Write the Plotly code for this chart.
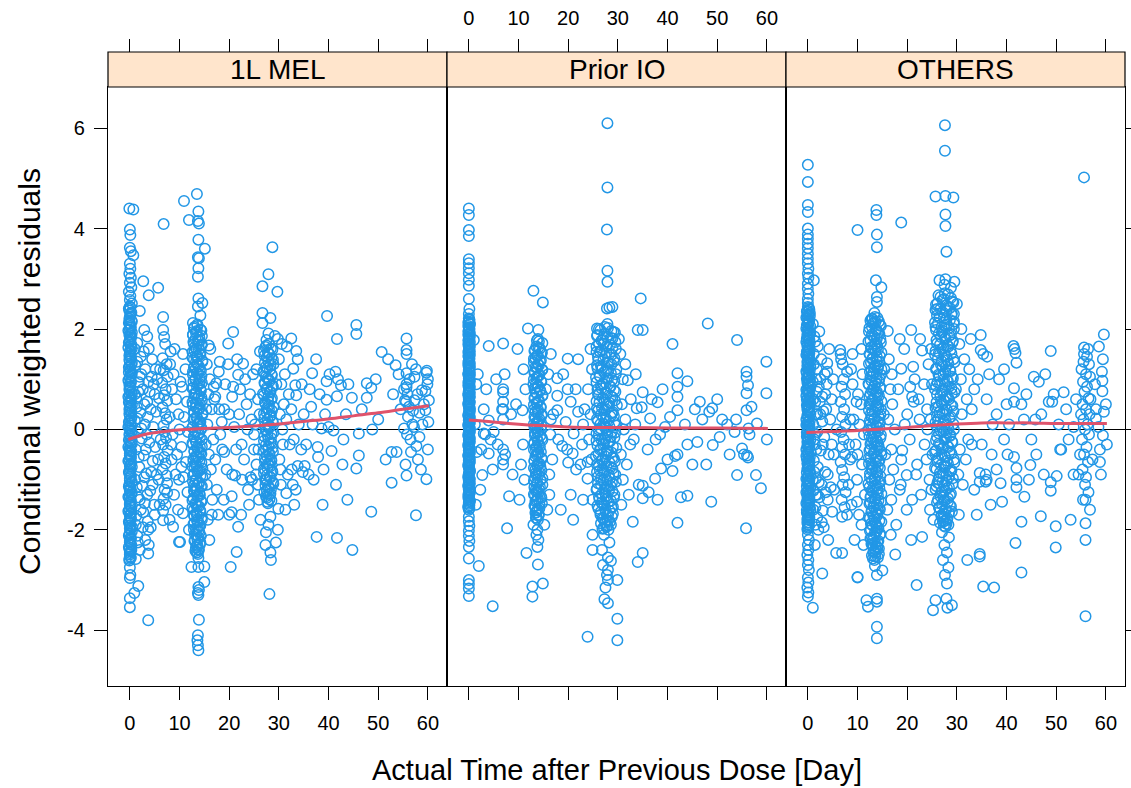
import plotly.graph_objects as go

# ---------------------------------------------------------------------------
# Conditional weighted residuals vs. actual time after previous dose,
# one panel per population.  Each list holds (time [day], CWRES) pairs.
# ---------------------------------------------------------------------------

PANELS = ["1L MEL", "Prior IO", "OTHERS"]

# ---------------- 1L MEL ----------------
mel_day0 = [
    (-0.1,4.40),(0.7,4.38),(0.0,3.98),(0.1,3.87),(0.0,3.62),(0.2,3.55),(0.7,3.47),(0.0,3.30),(0.1,3.20),
    (-0.1,3.10),(0.2,3.02),(0.0,2.92),(0.3,2.83),(-0.2,2.74),(0.1,2.66),(0.0,2.58),(0.4,2.51),
    (0.0,2.45),(-0.2,2.41),(0.3,2.33),(0.1,2.28),(-0.1,2.20),(0.4,2.15),(0.0,2.11),(0.2,2.03),(-0.3,1.97),
    (0.1,1.90),(0.3,1.86),(0.0,1.78),(-0.2,1.73),(0.2,1.65),(0.4,1.61),(0.0,1.55),(-0.1,1.47),(0.2,1.42),
    (0.0,1.36),(0.3,1.29),(-0.2,1.24),(0.1,1.16),(0.4,1.12),(0.0,1.05),(-0.3,0.98),(0.2,0.93),(0.1,0.85),
    (-0.1,0.80),(0.3,0.74),(0.0,0.67),(0.2,0.62),(-0.2,0.54),(0.4,0.49),(0.1,0.43),(0.0,0.36),(-0.1,0.31),
    (0.3,0.23),(0.0,0.18),(0.2,0.12),(-0.3,0.05),(0.1,-0.01),(0.4,-0.08),(0.0,-0.13),(-0.2,-0.21),(0.2,-0.26),
    (0.1,-0.32),(-0.1,-0.39),(0.3,-0.44),(0.0,-0.52),(0.2,-0.57),(-0.3,-0.63),(0.1,-0.70),(0.4,-0.75),
    (0.0,-0.83),(-0.1,-0.88),(0.2,-0.94),(0.0,-1.01),(0.3,-1.06),(-0.2,-1.14),(0.1,-1.19),(0.4,-1.25),
    (0.0,-1.32),(-0.1,-1.37),(0.2,-1.45),(0.0,-1.50),(0.3,-1.56),(-0.3,-1.63),(0.1,-1.68),(0.2,-1.76),
    (0.0,-1.81),(-0.1,-1.87),(0.4,-1.94),(0.1,-1.99),(0.0,-2.07),(-0.2,-2.12),(0.2,-2.18),(0.0,-2.25),
    (0.3,-2.30),(-0.1,-2.38),(0.1,-2.43),(0.0,-2.49),(0.2,-2.56),(-0.1,-2.61),
    (0.0,-2.75),(0.1,-2.90),(0.0,-2.96),(1.7,-3.12),(0.9,-3.26),(0.0,-3.36),(0.0,-3.54),
]
mel_day0_more = [
    (0.1,2.43),(-0.1,2.37),(0.2,2.30),(0.0,2.24),(0.3,2.17),(-0.2,2.12),(0.1,2.06),(0.0,1.99),(0.4,1.93),
    (-0.1,1.88),(0.2,1.81),(0.0,1.75),(0.3,1.69),(-0.3,1.63),(0.1,1.58),(0.0,1.51),(0.2,1.45),(-0.1,1.39),
    (0.4,1.33),(0.0,1.27),(0.1,1.20),(-0.2,1.14),(0.3,1.08),(0.0,1.02),(0.2,0.96),(-0.1,0.89),(0.1,0.83),
    (0.0,0.77),(0.4,0.70),(-0.3,0.65),(0.2,0.58),(0.0,0.52),(0.1,0.46),(-0.1,0.40),(0.3,0.33),(0.0,0.27),
    (0.2,0.21),(-0.2,0.15),(0.1,0.08),(0.0,0.02),(0.3,-0.04),(-0.1,-0.10),(0.2,-0.17),(0.0,-0.23),(0.4,-0.29),
    (-0.3,-0.35),(0.1,-0.42),(0.0,-0.48),(0.2,-0.54),(-0.1,-0.60),(0.3,-0.67),(0.0,-0.73),(0.1,-0.79),
    (-0.2,-0.85),(0.2,-0.91),(0.0,-0.97),(0.4,-1.04),(-0.1,-1.10),(0.1,-1.16),(0.0,-1.22),(0.3,-1.29),
    (-0.3,-1.34),(0.2,-1.41),(0.0,-1.47),(0.1,-1.53),(-0.1,-1.60),(0.3,-1.66),(0.0,-1.72),(0.2,-1.78),
    (-0.2,-1.84),(0.1,-1.91),(0.0,-1.97),(0.4,-2.03),(-0.1,-2.09),(0.2,-2.15),(0.0,-2.22),(0.1,-2.28),
    (-0.2,-2.34),(0.3,-2.40),(0.0,-2.46),(0.1,-2.53),(-0.1,-2.58),
]
mel_early = [
    (2.0,2.36),(2.9,1.98),(3.8,1.61),(2.7,2.95),(3.8,2.67),(1.5,1.72),(2.2,1.45),(1.1,1.28),(3.1,1.20),
    (4.4,1.05),(1.8,0.94),(2.6,0.80),(1.3,0.62),(3.5,0.55),(4.2,0.40),(2.1,0.33),(1.0,0.18),(3.0,0.10),
    (1.6,-0.05),(2.4,-0.18),(3.9,-0.26),(1.2,-0.40),(2.8,-0.52),(4.6,-0.63),(1.9,-0.75),(3.3,-0.88),
    (1.1,-1.00),(2.5,-1.12),(4.1,-1.22),(1.7,-1.35),(3.0,-1.47),(2.2,-1.60),(1.3,-1.72),(3.6,-1.83),
    (2.6,-1.95),(3.7,-2.00),(1.5,-2.12),(3.8,-2.30),(3.7,-2.47),(2.0,-2.40),(1.2,-2.58),(3.7,-3.80),
    (4.8,0.90),(4.9,-1.50),(2.3,1.10),(1.4,0.45),(3.4,-0.10),(1.0,1.60),(1.2,-1.90),(1.0,0.70),
    (1.5,1.35),(2.8,1.55),(3.5,1.85),(4.5,1.40),(5.2,1.20),(2.0,1.05),(3.7,0.95),(5.0,0.70),(1.7,0.75),
    (2.9,0.50),(4.0,0.75),(5.3,0.35),(1.5,0.22),(3.6,0.25),(4.7,0.05),(2.3,0.02),(5.1,-0.35),(3.2,-0.40),
    (1.8,-0.55),(4.3,-0.85),(2.9,-0.95),(5.4,-0.90),(1.4,-1.15),(3.5,-1.30),(4.6,-1.10),(2.0,-1.40),
    (5.0,-1.70),(2.7,-1.65),(4.2,-1.95),(1.6,-2.25),(3.1,-2.20),(8.8,1.10),(9.3,0.60),(8.6,-0.10),
    (9.5,-0.50),(8.9,-1.30),(9.7,-1.60),(10.2,0.95),(10.4,-0.75),(9.0,1.60),(8.5,0.80),(9.2,-0.90),
    (10.0,0.00),(5.5,1.00),(5.7,-0.60),(6.0,-1.50),(6.1,1.20),(8.0,-1.80),(8.3,-0.30),(6.2,-0.20),
]
mel_day7 = [
    (6.8,4.09),(5.7,2.82),(6.7,2.24),(6.7,1.98),(6.9,1.84),(8.2,1.55),(7.1,1.70),(6.6,1.42),(7.4,1.30),
    (6.8,1.18),(7.6,1.05),(6.5,0.93),(7.2,0.80),(6.9,0.68),(7.5,0.57),(6.6,0.44),(7.1,0.32),(7.4,0.20),
    (6.8,0.08),(7.0,-0.05),(7.3,-0.17),(6.7,-0.30),(7.6,-0.42),(6.9,-0.55),(7.2,-0.68),(6.6,-0.80),
    (7.4,-0.92),(7.5,-1.07),(7.0,-1.20),(7.5,-1.26),(6.8,-1.38),(7.2,-1.50),(6.7,-1.62),(6.7,-1.81),
    (8.7,-1.94),(9.9,-2.24),(5.9,0.62),(8.0,0.25),(8.4,-0.60),(5.8,-1.00),(8.1,1.30),
]
mel_day14 = [
    (10.9,4.55),(13.5,4.69),(11.9,4.17),(13.8,4.34),(13.7,4.15),(13.9,4.10),(13.8,3.78),(15.1,3.60),
    (13.7,3.43),(13.9,3.41),(13.8,3.21),(13.7,3.04),(13.8,2.61),(14.6,2.52),(13.7,2.45),(14.2,2.27),
    (12.7,2.12),(13.6,2.09),
    (13.0,2.04),(14.2,1.99),(13.5,1.96),(12.7,1.89),(14.5,1.86),(13.2,1.80),(13.9,1.77),(12.9,1.70),
    (14.4,1.67),(13.4,1.61),(13.0,1.57),(14.1,1.51),(13.6,1.46),(12.6,1.43),(14.6,1.37),(13.3,1.34),
    (13.9,1.26),(12.9,1.23),(14.3,1.17),(13.5,1.12),(12.7,1.09),(14.0,1.02),(13.2,0.99),(14.5,0.93),
    (13.7,0.90),(12.8,0.83),(14.2,0.80),(13.4,0.73),(13.0,0.70),(14.4,0.64),(13.6,0.61),(12.6,0.54),
    (14.1,0.51),(13.3,0.44),(13.9,0.41),(12.9,0.35),(14.6,0.32),(13.5,0.25),(13.0,0.22),(14.2,0.15),
    (13.7,0.12),(12.7,0.05),(14.4,0.03),(13.2,-0.04),(13.9,-0.07),(12.9,-0.14),(14.1,-0.17),(13.4,-0.24),
    (12.6,-0.27),(14.5,-0.34),(13.6,-0.36),(13.0,-0.43),(14.2,-0.46),(13.3,-0.53),(13.8,-0.56),(12.8,-0.63),
    (14.4,-0.66),(13.5,-0.73),(13.0,-0.75),(14.0,-0.82),(13.7,-0.85),(12.7,-0.92),(14.6,-0.95),(13.2,-1.02),
    (13.9,-1.05),(12.9,-1.11),(14.3,-1.14),(13.5,-1.21),(13.0,-1.24),(14.1,-1.31),(13.6,-1.34),(12.6,-1.41),
    (14.4,-1.44),(13.3,-1.50),(13.9,-1.53),(12.9,-1.60),(14.2,-1.63),(13.5,-1.70),(13.0,-1.73),(14.5,-1.80),
    (13.7,-1.83),(12.8,-1.89),(14.0,-1.92),(13.3,-1.99),(13.8,-2.02),(13.1,-2.09),(14.3,-2.12),(13.6,-2.19),
    (13.0,-2.22),(14.1,-2.29),(13.5,-2.32),(13.8,-2.39),(13.2,-2.42),(13.7,-2.48),
    (13.8,-2.56),(12.4,-2.74),(13.8,-2.74),(15.0,-2.73),(15.0,-3.04),(13.8,-3.14),(13.9,-3.20),
    (13.7,-3.26),(13.8,-3.30),(13.9,-3.79),(13.7,-4.10),(13.6,-4.20),(13.7,-4.30),(13.8,-4.40),
    (10.7,1.50),(15.9,1.67),(17.9,1.15),(11.2,1.20),(16.1,1.00),(10.5,0.85),(15.8,0.70),(11.5,0.55),
    (16.5,0.40),(10.9,0.25),(15.6,0.10),(11.7,-0.05),(16.8,-0.20),(10.4,-0.35),(15.9,-0.50),(11.3,-0.65),
    (16.3,-0.80),(10.8,-0.95),(15.5,-1.10),(11.6,-1.25),(16.6,-1.40),(10.7,-1.67),(10.1,-2.24),(15.7,-1.80),
    (11.9,-2.00),(16.0,-2.20),(17.2,-0.60),(17.0,0.60),(9.8,0.30),(9.9,-1.00),
]
mel_day14_more = [
    (13.6,2.06),(12.9,2.01),(14.4,1.97),(13.3,1.93),(12.7,1.88),(14.0,1.83),(13.7,1.78),(12.8,1.74),
    (14.5,1.69),(13.1,1.64),(13.9,1.59),(12.6,1.54),(14.2,1.49),(13.4,1.45),(12.9,1.40),(14.6,1.35),
    (13.6,1.30),(13.0,1.25),(14.1,1.20),(12.7,1.15),(13.8,1.11),(14.4,1.06),(13.2,1.01),(12.8,0.96),
    (14.0,0.91),(13.5,0.86),(12.6,0.82),(14.3,0.77),(13.1,0.72),(13.9,0.67),(12.9,0.62),(14.5,0.58),
    (13.3,0.53),(12.7,0.48),(14.1,0.43),(13.7,0.38),(13.0,0.33),(14.6,0.29),(13.4,0.24),(12.8,0.19),
    (14.0,0.14),(13.6,0.09),(12.6,0.04),(14.3,0.00),(13.1,-0.05),(13.8,-0.10),(12.9,-0.15),(14.5,-0.20),
    (13.3,-0.25),(12.7,-0.30),(14.1,-0.35),(13.7,-0.39),(13.0,-0.44),(14.4,-0.49),(13.5,-0.54),(12.8,-0.59),
    (14.0,-0.64),(13.2,-0.69),(12.6,-0.74),(14.6,-0.78),(13.6,-0.83),(13.0,-0.88),(14.2,-0.93),(13.4,-0.98),
    (12.7,-1.03),(13.9,-1.08),(14.5,-1.13),(13.1,-1.17),(12.9,-1.22),(14.0,-1.27),(13.7,-1.32),(12.8,-1.37),
    (14.3,-1.42),(13.2,-1.47),(13.6,-1.52),(12.6,-1.56),(14.1,-1.61),(13.4,-1.66),(12.9,-1.71),(14.4,-1.76),
    (13.5,-1.81),(13.0,-1.86),(14.2,-1.91),(13.7,-1.95),(12.9,-2.00),(14.0,-2.05),(13.4,-2.10),(13.8,-2.15),
    (13.1,-2.20),(14.2,-2.25),(13.6,-2.30),(13.3,-2.35),(13.9,-2.40),(13.5,-2.45),
]
mel_day21 = [
    (19.8,1.71),(20.8,1.94),(22.8,1.31),(21.8,1.09),(20.8,0.85),(20.6,0.65),(17.4,0.92),(17.2,0.65),
    (19.0,0.40),(22.0,0.30),(18.5,0.15),(21.0,0.05),(23.5,0.50),(24.5,0.20),(20.3,-2.74),(21.5,-2.44),
    (21.8,-1.94),(20.5,-1.65),(20.0,-1.70),(20.5,-1.33),(20.6,-0.90),(21.2,-0.92),(23.8,-1.20),(24.3,-0.95),
    (24.6,-1.00),(19.0,-0.45),(22.5,-0.30),(18.2,-0.10),(23.0,-0.60),(25.0,-0.40),
    (15.5,1.30),(16.9,0.85),(18.1,1.35),(19.2,0.90),(18.6,-0.40),(17.5,-1.20),(19.5,-0.80),(20.0,0.30),
    (21.4,-0.40),(22.2,0.80),(22.6,-1.00),(23.2,1.00),(23.7,0.00),(24.0,-1.50),(17.8,-1.70),(18.9,-1.40),
    (19.8,1.30),(21.6,1.40),(24.2,0.70),(16.2,1.60),(15.3,-0.30),(15.2,-0.90),(15.4,0.40),(22.4,-1.70),
    (18.0,0.40),(16.5,-1.70),(24.8,1.10),(25.5,-0.70),(25.8,-1.10),(26.1,0.30),
]
mel_day28 = [
    (28.7,3.63),(27.9,3.09),(26.7,2.85),(29.7,2.74),(26.7,2.32),(28.3,2.22),(26.7,2.12),(27.9,1.91),
    (29.2,1.86),(27.5,1.78),
    (28.0,1.70),(27.3,1.64),(28.7,1.59),(27.8,1.53),(27.1,1.47),(28.5,1.42),(27.9,1.36),(28.9,1.30),
    (27.4,1.25),(28.2,1.19),(27.0,1.13),(28.6,1.08),(27.7,1.02),(28.1,0.96),(27.2,0.91),(28.8,0.85),
    (27.6,0.79),(28.3,0.74),(27.0,0.68),(28.6,0.62),(27.8,0.57),(27.3,0.51),(28.9,0.45),(28.0,0.40),
    (27.5,0.34),(28.4,0.28),(27.1,0.23),(28.7,0.17),(27.8,0.11),(28.2,0.06),(27.3,0.00),(28.9,-0.06),
    (27.7,-0.11),(28.4,-0.17),(27.0,-0.23),(28.6,-0.28),(27.9,-0.34),(27.4,-0.40),(28.8,-0.45),(28.1,-0.51),
    (27.2,-0.57),(28.5,-0.62),(27.8,-0.68),(28.2,-0.74),(27.0,-0.79),(28.7,-0.85),(27.6,-0.91),(28.3,-0.96),
    (27.3,-1.02),(28.9,-1.08),(27.9,-1.13),(28.4,-1.19),(27.1,-1.25),(28.0,-1.30),(27.6,-1.36),(28.5,-1.42),
    (27.8,-1.47),
    (28.3,-1.74),(27.9,-1.90),(27.4,-2.05),(27.3,-2.30),(29.4,-2.25),(28.3,-2.45),(28.4,-2.60),(28.1,-3.28),
    (25.5,1.20),(30.0,1.40),(25.8,0.60),(30.5,0.90),(25.2,0.10),(30.2,0.30),(25.9,-0.40),(30.8,-0.30),
    (25.4,-0.90),(30.3,-0.80),(29.9,-1.58),(26.0,-1.40),(31.5,-1.27),(30.6,1.70),(26.2,1.55),(25.0,-0.10),
    (31.0,0.50),(26.3,-1.80),(29.8,-2.00),
]
mel_day28_more = [
    (27.5,1.67),(28.4,1.61),(27.0,1.56),(28.1,1.50),(27.6,1.44),(28.8,1.39),(27.2,1.33),(28.3,1.27),
    (27.7,1.22),(26.9,1.16),(28.5,1.10),(27.4,1.05),(28.0,0.99),(27.1,0.93),(28.7,0.88),(27.5,0.82),
    (28.2,0.76),(26.8,0.71),(27.9,0.65),(28.4,0.59),(27.2,0.54),(28.0,0.48),(27.6,0.42),(28.6,0.37),
    (27.0,0.31),(28.2,0.25),(27.7,0.20),(28.8,0.14),(27.3,0.08),(28.0,0.03),(27.5,-0.03),(28.5,-0.09),
    (27.1,-0.14),(27.9,-0.20),(28.3,-0.26),(27.4,-0.31),(28.7,-0.37),(26.9,-0.43),(28.1,-0.48),(27.6,-0.54),
    (28.4,-0.60),(27.2,-0.65),(28.0,-0.71),(27.7,-0.77),(28.6,-0.82),(27.0,-0.88),(28.2,-0.94),(27.5,-0.99),
    (28.8,-1.05),(27.3,-1.11),(28.0,-1.16),(27.6,-1.22),(28.3,-1.28),(27.4,-1.33),(28.1,-1.39),(27.7,-1.44),
]
mel_late = [
    (32.5,1.81),(33.5,1.56),(31.6,1.65),(32.9,1.21),(33.3,0.88),(33.5,0.68),(36.7,1.12),(39.7,2.26),
    (41.7,1.80),(45.6,2.08),(45.6,1.90),(50.7,1.54),(39.6,0.96),(40.2,1.10),(41.4,1.15),(41.9,1.00),
    (42.5,0.88),(41.7,0.66),(47.7,0.92),(48.6,0.83),(44.7,0.63),(47.7,0.63),(39.6,0.59),(32.8,-1.10),
    (33.4,-1.20),(32.6,-0.80),(34.8,-0.85),(36.0,-0.90),(33.8,-0.73),(35.2,-0.73),(37.8,-0.35),(37.9,-0.55),
    (40.6,-0.43),(37.6,-2.14),(41.7,-2.16),(44.8,-2.40),(45.6,-0.78),(46.1,-0.52),(46.1,-0.08),(48.6,-1.64),
    (48.8,0.00),(38.6,0.02),(40.0,0.05),(41.0,-0.02),(35.0,0.30),(34.0,0.10),(36.5,0.45),(43.5,0.30),
    (50.0,0.20),(52.0,1.40),(31.5,0.20),(32.2,-0.30),(34.5,-0.40),(42.8,-0.70),(44.0,0.90),
    (29.5,0.90),(30.1,-0.60),(31.2,1.10),(31.8,-0.90),(32.0,0.70),(33.0,-0.20),(30.7,0.00),(32.5,0.40),
    (33.8,1.40),(35.5,-0.30),(36.2,0.80),(37.0,-1.00),(38.2,0.70),(39.0,-0.80),(30.4,-1.10),(31.3,-1.60),
    (29.8,1.80),(33.1,-1.50),(34.6,0.90),(36.8,0.10),(37.5,1.40),(38.8,-1.50),(39.3,0.30),(43.0,-0.20),
    (41.5,-1.10),(46.7,0.40),(43.8,-1.40),(51.5,-0.60),(49.5,1.00),(53.0,0.70),
]
mel_day56 = [
    (55.7,1.81),(55.7,1.58),(55.7,1.50),(53.5,1.28),(54.1,1.10),(55.7,1.12),(57.3,1.05),(59.7,1.13),
    (59.8,1.17),(55.7,0.90),(55.7,0.84),(58.8,0.78),(59.5,0.76),(55.4,0.58),(55.6,0.55),(57.3,0.58),
    (57.0,0.37),(58.3,0.33),(59.5,0.38),(60.2,0.58),(52.7,-0.45),(53.7,-0.45),(52.7,-1.06),(55.7,-0.92),
    (57.7,-0.33),(58.3,-0.15),(57.6,-1.71),(59.7,-0.99),(55.2,0.02),(57.2,0.05),(58.9,0.10),(60.1,0.15),
    (56.0,0.25),(56.5,-0.20),(55.9,0.70),(59.9,0.90),(54.5,0.40),(58.0,-0.60),(60.0,-0.40),(56.8,1.30),
    (56.3,1.00),(55.2,0.80),(57.6,1.20),(56.2,0.45),(55.8,-0.10),(56.6,-0.45),(57.9,0.70),(59.2,0.50),
    (58.6,-0.80),(55.5,-0.70),(60.0,1.00),(56.9,0.10),
]

# ---------------- Prior IO ----------------
io_day0 = [
    (0.0,4.40),(0.0,4.27),(0.0,3.97),(0.0,3.85),(0.0,3.39),(0.0,3.31),(0.0,3.21),(0.0,3.11),(0.0,2.98),
    (0.0,2.86),(0.0,2.60),(0.1,2.40),(0.0,2.30),
    (0.0,2.21),(0.1,2.18),(-0.1,2.13),(0.2,2.09),(0.0,2.03),(0.1,1.99),(-0.1,1.95),(0.0,1.89),(0.2,1.86),
    (0.1,1.80),(-0.1,1.77),(0.0,1.71),(0.2,1.66),(0.1,1.63),(0.0,1.57),(-0.1,1.54),(0.2,1.48),(0.0,1.44),
    (0.1,1.40),(-0.1,1.34),(0.0,1.31),(0.2,1.25),(0.1,1.21),(0.0,1.17),(-0.1,1.11),(0.2,1.08),(0.0,1.02),
    (0.1,0.98),(-0.1,0.94),(0.0,0.88),(0.2,0.85),(0.1,0.79),(0.0,0.75),(-0.1,0.71),(0.2,0.65),(0.0,0.62),
    (0.1,0.56),(-0.1,0.52),(0.0,0.48),(0.2,0.42),(0.1,0.39),(0.0,0.33),(-0.1,0.29),(0.2,0.25),(0.0,0.19),
    (0.1,0.16),(-0.1,0.10),(0.0,0.06),(0.2,0.02),(0.1,-0.04),(0.0,-0.07),(-0.1,-0.13),(0.2,-0.17),
    (0.0,-0.21),(0.1,-0.27),(-0.1,-0.30),(0.0,-0.36),(0.2,-0.40),(0.1,-0.44),(0.0,-0.50),(-0.1,-0.53),
    (0.2,-0.59),(0.0,-0.63),(0.1,-0.67),(-0.1,-0.73),(0.0,-0.76),(0.2,-0.82),(0.1,-0.86),(0.0,-0.90),
    (-0.1,-0.96),(0.2,-0.99),(0.0,-1.05),(0.1,-1.09),(-0.1,-1.13),(0.0,-1.19),(0.2,-1.22),(0.1,-1.28),
    (0.0,-1.32),(-0.1,-1.36),(0.2,-1.42),(0.0,-1.45),(0.1,-1.51),(-0.1,-1.55),(0.0,-1.60),
    (0.0,-1.74),(0.0,-1.83),(0.1,-1.92),(0.0,-2.02),(0.0,-2.12),(0.1,-2.22),(0.0,-2.34),(0.0,-2.57),
    (2.0,-2.72),(0.0,-3.00),(0.0,-3.08),(0.0,-3.17),(0.0,-3.32),
]
io_day0_more = [
    (0.1,2.19),(0.0,2.15),(0.2,2.11),(-0.1,2.06),(0.1,2.01),(0.0,1.97),(0.2,1.92),(-0.1,1.88),(0.1,1.83),
    (0.0,1.78),(0.2,1.74),(-0.1,1.69),(0.0,1.64),(0.1,1.60),(0.2,1.55),(0.0,1.51),(-0.1,1.46),(0.1,1.42),
    (0.0,1.37),(0.2,1.32),(-0.1,1.28),(0.1,1.23),(0.0,1.19),(0.2,1.14),(-0.1,1.10),(0.0,1.05),(0.1,1.00),
    (0.2,0.96),(0.0,0.91),(-0.1,0.87),(0.1,0.82),(0.0,0.77),(0.2,0.73),(-0.1,0.68),(0.1,0.64),(0.0,0.59),
    (0.2,0.54),(-0.1,0.50),(0.0,0.45),(0.1,0.41),(0.2,0.36),(0.0,0.31),(-0.1,0.27),(0.1,0.22),(0.0,0.18),
    (0.2,0.13),(-0.1,0.08),(0.1,0.04),(0.0,-0.01),(0.2,-0.05),(-0.1,-0.10),(0.0,-0.15),(0.1,-0.19),
    (0.2,-0.24),(0.0,-0.28),(-0.1,-0.33),(0.1,-0.38),(0.0,-0.42),(0.2,-0.47),(-0.1,-0.51),(0.1,-0.56),
    (0.0,-0.61),(0.2,-0.65),(-0.1,-0.70),(0.0,-0.74),(0.1,-0.79),(0.2,-0.84),(0.0,-0.88),(-0.1,-0.93),
    (0.1,-0.97),(0.0,-1.02),(0.2,-1.07),(-0.1,-1.11),(0.1,-1.16),(0.0,-1.20),(0.2,-1.25),(-0.1,-1.30),
    (0.0,-1.34),(0.1,-1.39),(0.2,-1.43),(0.0,-1.48),(-0.1,-1.53),(0.1,-1.57),
]
io_early = [
    (1.0,1.78),(4.0,1.66),(6.9,1.71),(3.0,0.40),(6.9,0.80),(6.9,0.74),(6.9,0.55),(6.9,0.40),(6.7,0.40),
    (6.9,0.20),(4.0,0.18),(4.0,-0.48),(4.8,-0.80),(2.7,-0.91),(6.9,-0.40),(7.3,-0.50),(6.9,-0.60),
    (6.9,-0.70),(8.1,-1.33),(7.7,-1.97),(3.0,-0.08),(3.3,-0.10),(4.4,-0.20),(5.0,-0.05),(4.8,-3.52),
    (1.5,0.90),(2.3,-1.20),(1.2,0.10),(8.5,0.30),(5.5,1.00),(1.6,-0.45),
    (1.8,1.10),(2.5,-0.40),(3.5,0.80),(5.8,-0.30),(7.2,1.10),(8.8,-0.90),(9.5,0.50),(1.4,-1.50),
    (10.2,-1.40),(9.8,1.60),
]
io_day14 = [
    (13.0,2.76),(14.9,2.53),(11.9,2.01),(14.0,1.98),(13.9,1.80),(14.1,1.75),(13.7,1.77),(14.8,1.72),
    (13.6,1.65),(14.3,1.61),(13.2,1.56),(14.7,1.52),(13.9,1.47),(13.4,1.42),(14.5,1.38),(13.1,1.33),
    (14.1,1.28),(13.7,1.24),(14.8,1.19),(13.3,1.14),(14.2,1.09),(13.8,1.05),(13.1,1.00),(14.6,0.95),
    (13.5,0.91),(14.0,0.86),(13.2,0.81),(14.4,0.77),(13.7,0.72),(14.8,0.67),(13.3,0.63),(14.1,0.58),
    (13.6,0.53),(13.1,0.49),(14.5,0.44),(13.9,0.39),(13.4,0.35),(14.7,0.30),(13.2,0.25),(14.2,0.21),
    (13.8,0.16),(13.1,0.11),(14.6,0.07),(13.5,0.02),(14.0,-0.03),(13.3,-0.07),(14.4,-0.12),(13.7,-0.17),
    (14.8,-0.21),(13.2,-0.26),(14.1,-0.31),(13.6,-0.35),(13.1,-0.40),(14.5,-0.45),(13.9,-0.49),(13.4,-0.54),
    (14.7,-0.59),(13.2,-0.63),(14.2,-0.68),(13.8,-0.73),(13.1,-0.77),(14.6,-0.82),(13.5,-0.87),(14.0,-0.91),
    (13.3,-0.96),(14.4,-1.01),(13.7,-1.05),(14.8,-1.10),(13.2,-1.15),(14.1,-1.19),(13.6,-1.24),(13.1,-1.29),
    (14.5,-1.33),(13.9,-1.38),(13.4,-1.43),(14.7,-1.47),(13.2,-1.52),(14.2,-1.57),(13.8,-1.61),(13.4,-1.66),
    (14.0,-1.71),(13.6,-1.76),(13.9,-1.80),
    (13.0,-1.90),(13.8,-2.00),(13.6,-2.10),(14.0,-2.20),(13.8,-2.34),(11.6,-2.46),(13.9,-2.69),(12.8,-3.13),
    (12.8,-3.33),(14.9,-3.07),(15.2,-1.90),
    (17.8,1.02),(19.9,1.41),(19.9,0.80),(17.8,0.67),(17.8,0.38),(10.8,0.38),(11.4,0.80),(16.5,0.20),
    (10.9,-0.30),(16.8,-0.60),(11.2,-1.00),(16.2,-1.30),(11.0,1.20),(16.0,1.10),(10.5,-0.70),(16.4,-0.10),
]
io_day14_more = [
    (14.0,1.63),(13.3,1.58),(14.6,1.53),(13.7,1.47),(13.1,1.41),(14.3,1.36),(13.9,1.30),(13.4,1.24),
    (14.7,1.19),(13.2,1.13),(14.1,1.07),(13.6,1.02),(14.5,0.96),(13.0,0.90),(13.8,0.85),(14.3,0.79),
    (13.5,0.73),(14.8,0.68),(13.2,0.62),(14.0,0.56),(13.7,0.51),(14.4,0.45),(13.1,0.39),(13.9,0.34),
    (14.6,0.28),(13.4,0.22),(14.1,0.17),(13.6,0.11),(13.2,0.05),(14.5,0.00),(13.8,-0.06),(13.3,-0.12),
    (14.7,-0.17),(13.9,-0.23),(13.1,-0.29),(14.3,-0.34),(13.5,-0.40),(14.0,-0.46),(13.7,-0.51),(14.6,-0.57),
    (13.2,-0.63),(13.9,-0.68),(14.4,-0.74),(13.4,-0.80),(14.1,-0.85),(13.6,-0.91),(14.8,-0.97),(13.1,-1.02),
    (13.8,-1.08),(14.3,-1.14),(13.5,-1.19),(14.0,-1.25),(13.3,-1.31),(14.6,-1.36),(13.7,-1.42),(14.2,-1.48),
    (13.4,-1.53),(13.9,-1.59),(13.6,-1.65),(14.1,-1.70),(13.5,-1.76),
]
io_mid = [
    (18.8,-0.33),(20.9,-0.48),(20.0,-0.66),(21.6,-0.80),(21.1,-0.08),(23.9,-0.65),(23.9,-0.98),(24.9,-2.10),
    (24.9,-2.40),(23.9,-4.13),(19.5,0.15),(22.0,0.35),(23.0,0.10),(20.5,0.55),(24.0,0.80),(22.8,-0.30),
    (15.5,0.80),(16.2,-0.90),(17.0,0.30),(18.0,-0.20),(19.0,1.10),(20.5,-1.30),(21.5,0.80),(22.5,-0.70),
    (23.3,0.40),(24.2,-0.20),(18.5,-1.60),(22.0,1.40),(16.5,1.50),(15.8,-1.60),(21.0,-1.80),(24.5,1.60),
    (19.8,-0.40),(23.0,-1.40),
]
io_day28 = [
    (27.9,6.10),(27.9,4.82),(27.8,3.98),(27.9,3.16),(27.9,2.94),(27.8,2.41),(28.9,2.44),(28.3,2.43),
    (25.8,2.01),(27.9,2.10),
    (27.4,2.04),(26.2,2.00),(28.7,1.96),(29.4,1.93),(25.9,1.88),(27.9,1.84),(28.9,1.81),(26.7,1.77),
    (27.2,1.71),(28.4,1.68),(25.7,1.65),(29.6,1.60),(26.4,1.55),(27.7,1.52),(28.8,1.49),(26.0,1.44),
    (27.1,1.39),(29.2,1.36),(28.2,1.33),(25.8,1.28),(26.9,1.23),(29.7,1.20),(27.6,1.17),(28.6,1.12),
    (26.3,1.07),(25.6,1.04),(28.0,1.01),(29.3,0.96),(27.0,0.91),(26.6,0.88),(28.5,0.85),(25.9,0.80),
    (29.5,0.75),(27.8,0.72),(26.2,0.69),(28.9,0.64),(27.3,0.59),(25.7,0.56),(28.3,0.53),(29.8,0.48),
    (26.8,0.43),(27.6,0.40),(26.0,0.37),(28.7,0.32),(29.2,0.27),(27.1,0.24),(25.8,0.21),(28.1,0.16),
    (26.5,0.11),(29.6,0.08),(27.5,0.05),(26.1,0.00),(28.8,-0.05),(25.7,-0.08),(27.9,-0.11),(29.3,-0.16),
    (26.7,-0.21),(28.4,-0.24),(27.2,-0.27),(25.9,-0.32),(29.7,-0.37),(26.4,-0.40),(28.0,-0.43),(27.7,-0.48),
    (25.6,-0.53),(28.9,-0.56),(26.9,-0.59),(29.4,-0.64),(27.3,-0.69),(26.2,-0.72),(28.6,-0.75),(27.0,-0.80),
    (25.8,-0.85),(29.1,-0.88),(28.2,-0.91),(26.6,-0.96),(27.8,-1.01),(29.6,-1.04),(26.0,-1.07),(28.5,-1.12),
    (27.4,-1.17),(25.7,-1.20),(28.9,-1.23),(26.8,-1.28),(27.6,-1.33),(29.2,-1.36),(26.3,-1.39),(28.1,-1.44),
    (27.0,-1.49),(25.9,-1.52),(28.7,-1.55),(27.5,-1.60),(26.5,-1.65),(29.0,-1.68),(28.0,-1.71),(26.9,-1.76),
    (27.6,-1.81),(28.4,-1.84),(26.6,-1.87),(27.9,-1.92),(27.2,-1.97),(28.1,-2.00),
    (27.2,-2.10),(28.3,-2.25),(26.8,-2.40),(28.0,-2.55),(27.0,-2.70),(28.0,-2.80),(27.8,-2.90),(28.0,-3.00),
    (29.9,-3.00),(27.3,-3.38),(28.0,-3.46),(29.9,-3.77),(29.9,-4.20),(28.6,-2.62),(27.5,-3.15),
    (30.5,1.50),(31.0,1.00),(30.8,0.50),(31.2,0.00),(30.6,-0.50),(31.0,-1.00),(30.7,-1.50),(24.8,1.20),
    (24.5,0.30),(24.7,-0.60),(24.9,-1.40),(30.2,1.80),(31.5,0.20),
]
io_day28_more = [
    (28.0,2.02),(26.5,1.98),(29.1,1.94),(27.3,1.90),(25.8,1.86),(28.6,1.82),(27.0,1.78),(29.5,1.74),
    (26.2,1.70),(27.8,1.66),(28.9,1.62),(26.8,1.58),(25.7,1.54),(28.3,1.50),(27.4,1.46),(29.3,1.42),
    (26.1,1.38),(27.9,1.34),(28.7,1.30),(26.6,1.26),(25.9,1.22),(28.1,1.18),(27.2,1.14),(29.6,1.10),
    (26.4,1.06),(27.7,1.02),(28.8,0.98),(25.7,0.94),(27.1,0.90),(28.4,0.86),(26.7,0.82),(29.2,0.78),
    (27.5,0.74),(26.0,0.70),(28.6,0.66),(27.0,0.62),(29.4,0.58),(26.3,0.54),(27.9,0.50),(28.2,0.46),
    (25.8,0.42),(27.3,0.38),(29.0,0.34),(26.6,0.30),(28.5,0.26),(27.6,0.22),(26.0,0.18),(29.3,0.14),
    (27.1,0.10),(28.3,0.06),(26.5,0.02),(27.8,-0.02),(29.5,-0.06),(26.2,-0.10),(28.6,-0.14),(27.3,-0.18),
    (25.7,-0.22),(28.1,-0.26),(27.0,-0.30),(29.0,-0.34),(26.6,-0.38),(27.9,-0.42),(28.7,-0.46),(26.1,-0.50),
    (27.5,-0.54),(29.2,-0.58),(26.8,-0.62),(28.3,-0.66),(25.8,-0.70),(27.7,-0.74),(28.9,-0.78),(26.4,-0.82),
    (27.2,-0.86),(29.5,-0.90),(26.0,-0.94),(28.4,-0.98),(27.1,-1.02),(28.8,-1.06),(26.6,-1.10),(27.9,-1.14),
    (25.8,-1.18),(28.2,-1.22),(27.4,-1.26),(29.3,-1.30),(26.2,-1.34),(27.8,-1.38),(28.6,-1.42),(26.7,-1.46),
    (27.3,-1.50),(29.0,-1.54),(26.1,-1.58),(28.3,-1.62),(27.6,-1.66),(26.5,-1.70),(28.8,-1.74),(27.1,-1.78),
    (28.0,-1.82),(27.4,-1.86),(28.6,-1.90),(27.7,-1.94),(26.9,-1.98),
]
io_late = [
    (32.0,0.98),(35.0,0.74),(38.0,0.54),(33.8,0.42),(34.8,0.44),(36.5,0.22),(41.0,1.70),(42.0,1.12),
    (44.0,0.96),(42.0,0.85),(42.0,0.65),(42.0,0.38),(48.1,2.11),(47.0,0.20),(48.4,0.35),(49.0,0.42),
    (51.0,0.20),(54.0,1.78),(55.9,1.15),(55.9,1.05),(56.2,0.88),(55.9,0.72),(56.9,0.45),(55.9,0.38),
    (59.9,1.35),(59.9,0.72),(53.8,0.20),(34.6,2.61),(34.0,1.98),(35.0,1.98),(33.0,-1.84),(34.0,-2.64),
    (35.0,-2.46),(35.0,-1.37),(38.0,-1.40),(36.2,-1.25),(34.2,-1.10),(35.0,-1.12),(37.5,-0.98),(38.7,-0.78),
    (41.0,-0.83),(41.5,-0.53),(42.0,-0.50),(44.0,-0.30),(46.0,-0.25),(45.0,-0.70),(42.7,-1.35),(44.0,-1.32),
    (42.0,-1.86),(48.8,-1.44),(49.1,-0.31),(54.0,-0.91),(55.0,-0.38),(55.4,-0.50),(56.0,-0.52),(56.2,-0.56),
    (55.8,-1.97),(57.8,-0.91),(58.8,-1.17),(56.5,-0.10),(53.5,-0.05),(56.3,0.02),(32.5,-0.30),(33.5,0.10),
    (36.0,-0.40),(39.5,0.05),(40.5,0.25),(46.5,0.55),(50.5,-0.15),(52.0,0.10),(58.0,0.12),(60.0,-0.20),
    (38.5,-0.10),
    (31.8,-0.70),(32.6,0.60),(33.2,-0.20),(31.5,1.30),(32.2,-1.30),(33.6,1.10),(36.8,0.60),(37.6,-0.20),
    (39.0,0.80),(40.0,-0.60),(43.5,0.10),(45.5,0.40),(50.0,0.60),(52.5,-0.50),(47.8,-0.70),
]

# ---------------- OTHERS ----------------
oth_day0 = [
    (0.0,5.27),(0.0,4.93),(0.0,4.47),(0.0,4.33),(0.0,4.00),(0.0,3.88),(0.0,3.80),(0.0,3.70),(0.0,3.61),
    (0.0,3.50),(0.0,3.40),(0.0,3.31),(0.1,3.20),(0.0,3.10),(0.1,3.02),(1.2,2.97),(0.0,2.90),(0.0,2.80),
    (0.1,2.70),(0.0,2.60),(0.0,2.52),
    (0.0,2.44),(0.3,2.39),(-0.2,2.35),(0.1,2.29),(0.4,2.26),(-0.1,2.20),(0.2,2.15),(0.0,2.11),(0.5,2.05),
    (-0.3,2.01),(0.1,1.96),(0.3,1.90),(0.0,1.87),(-0.2,1.81),(0.2,1.76),(0.4,1.72),(-0.1,1.66),(0.1,1.62),
    (0.0,1.57),(0.3,1.51),(-0.3,1.48),(0.2,1.42),(0.5,1.37),(0.0,1.33),(-0.1,1.27),(0.1,1.23),(0.4,1.18),
    (-0.2,1.12),(0.2,1.09),(0.0,1.03),(0.3,0.98),(-0.1,0.94),(0.1,0.88),(0.5,0.84),(-0.3,0.79),(0.0,0.73),
    (0.2,0.70),(0.4,0.64),(-0.2,0.59),(0.1,0.55),(0.0,0.49),(0.3,0.45),(-0.1,0.40),(0.2,0.34),(0.5,0.31),
    (0.0,0.25),(-0.3,0.20),(0.1,0.16),(0.3,0.10),(-0.1,0.06),(0.2,0.01),(0.0,-0.05),(0.4,-0.08),(-0.2,-0.14),
    (0.1,-0.19),(0.0,-0.23),(0.3,-0.29),(-0.1,-0.33),(0.2,-0.38),(0.5,-0.44),(0.0,-0.47),(-0.3,-0.53),
    (0.1,-0.58),(0.3,-0.62),(-0.1,-0.68),(0.2,-0.72),(0.0,-0.77),(0.4,-0.83),(-0.2,-0.86),(0.1,-0.92),
    (0.0,-0.97),(0.3,-1.01),(-0.1,-1.07),(0.2,-1.11),(0.5,-1.16),(0.0,-1.22),(-0.3,-1.25),(0.1,-1.31),
    (0.3,-1.36),(-0.1,-1.40),(0.2,-1.46),(0.0,-1.50),(0.4,-1.55),(-0.2,-1.61),(0.1,-1.64),(0.0,-1.70),
    (0.3,-1.75),(-0.1,-1.79),(0.2,-1.85),(0.0,-1.89),(0.1,-1.94),(-0.1,-1.99),
    (0.0,-2.10),(0.2,-2.20),(0.0,-2.30),(0.1,-2.40),(-0.1,-2.50),(0.1,-2.60),(0.0,-2.70),(0.2,-2.80),
    (0.0,-2.95),(0.1,-3.05),(-0.1,-3.15),(0.1,-3.25),(0.0,-3.33),(1.0,-3.55),(2.9,-2.87),
]
oth_day0_more = [
    (0.2,2.42),(-0.1,2.37),(0.4,2.32),(0.0,2.27),(-0.3,2.23),(0.3,2.18),(0.1,2.13),(-0.2,2.08),(0.2,2.03),
    (0.0,1.98),(0.5,1.93),(-0.1,1.89),(0.1,1.84),(0.3,1.79),(-0.3,1.74),(0.0,1.69),(0.2,1.64),(0.4,1.59),
    (-0.2,1.55),(0.1,1.50),(0.0,1.45),(0.3,1.40),(-0.1,1.35),(0.2,1.30),(0.5,1.25),(0.0,1.21),(-0.3,1.16),
    (0.1,1.11),(0.3,1.06),(-0.2,1.01),(0.2,0.96),(0.0,0.91),(0.4,0.87),(-0.1,0.82),(0.1,0.77),(0.3,0.72),
    (-0.3,0.67),(0.0,0.62),(0.2,0.57),(0.5,0.52),(-0.2,0.48),(0.1,0.43),(0.0,0.38),(0.3,0.33),(-0.1,0.28),
    (0.2,0.23),(0.4,0.18),(0.0,0.14),(-0.3,0.09),(0.1,0.04),(0.3,-0.01),(-0.2,-0.06),(0.2,-0.11),(0.0,-0.16),
    (0.5,-0.21),(-0.1,-0.25),(0.1,-0.30),(0.3,-0.35),(-0.3,-0.40),(0.0,-0.45),(0.2,-0.50),(0.4,-0.55),
    (-0.2,-0.59),(0.1,-0.64),(0.0,-0.69),(0.3,-0.74),(-0.1,-0.79),(0.2,-0.84),(0.5,-0.89),(0.0,-0.93),
    (-0.3,-0.98),(0.1,-1.03),(0.3,-1.08),(-0.2,-1.13),(0.2,-1.18),(0.0,-1.23),(0.4,-1.27),(-0.1,-1.32),
    (0.1,-1.37),(0.3,-1.42),(-0.3,-1.47),(0.0,-1.52),(0.2,-1.57),(0.5,-1.61),(-0.2,-1.66),(0.1,-1.71),
    (0.0,-1.76),(0.3,-1.81),(-0.1,-1.86),(0.2,-1.91),(0.0,-1.96),
]
oth_early = [
    (3.9,1.32),(3.9,1.15),(2.9,0.65),(3.5,0.70),(3.1,0.36),(2.9,0.16),(1.2,1.50),(1.8,1.20),(1.0,0.95),
    (2.2,0.85),(1.5,0.55),(2.5,0.30),(1.1,0.10),(1.9,-0.05),(3.3,-0.15),(1.4,-0.30),(2.6,-0.42),(4.2,-0.50),
    (1.2,-0.62),(2.0,-0.75),(3.5,-0.85),(1.6,-0.98),(2.8,-1.10),(1.1,-1.22),(2.3,-1.35),(4.0,-1.40),
    (1.5,-1.55),(3.0,-1.62),(1.9,-1.75),(4.9,-1.64),(2.5,1.00),(1.3,1.85),(2.0,1.65),(1.0,2.10),(4.5,0.20),
    (4.8,-0.30),(3.8,0.90),(2.1,-2.00),(1.4,-2.30),(3.2,-1.95),(1.6,0.30),(1.3,-0.85),(1.7,1.00),(1.1,-1.60),
    (1.8,0.75),(1.5,-0.10),(1.9,-1.30),(1.2,1.30),
    (1.5,1.75),(2.7,1.40),(3.4,1.10),(4.3,1.60),(5.1,1.00),(2.4,0.55),(3.7,0.40),(4.8,0.60),(1.7,-0.40),
    (3.0,-0.30),(4.0,-0.90),(5.2,-0.50),(2.2,-1.05),(3.6,-1.25),(4.6,-1.15),(1.5,-1.90),(2.8,-1.85),
    (4.1,-2.20),(5.3,-1.20),(8.7,1.20),(9.2,0.20),(8.5,-0.60),(9.6,-0.30),(8.8,-1.50),(10.1,0.70),
    (10.3,-1.70),(9.0,1.50),(8.2,-1.10),(10.0,-0.50),(9.4,-2.20),(1.1,0.60),(1.3,-0.20),(1.0,-1.00),
    (1.9,0.30),(1.6,-1.30),(2.3,1.95),
]
oth_day7 = [
    (6.5,1.58),(6.6,1.50),(6.7,1.40),(7.0,1.30),(7.9,1.15),(9.8,0.55),(7.2,1.00),(6.8,0.85),(7.5,0.70),
    (6.6,0.55),(7.3,0.40),(6.9,0.25),(7.6,0.10),(6.7,-0.05),(7.2,-0.20),(6.9,-0.35),(7.5,-0.50),(6.6,-0.65),
    (6.9,-0.81),(7.3,-0.95),(7.0,-1.10),(7.6,-1.25),(6.8,-1.40),(7.4,-1.55),(6.9,-1.74),(7.9,-1.70),
    (5.7,-2.46),(6.9,-2.46),(9.9,-1.44),(10.0,-2.95),(8.9,-0.55),(9.9,-1.00),(8.5,0.20),(9.0,0.90),
    (5.8,0.00),(8.3,-0.30),
]
oth_day14 = [
    (13.8,4.37),(13.8,4.27),(13.9,3.88),(13.9,3.63),(10.0,3.97),(18.8,4.12),(13.7,2.97),(14.8,2.83),
    (13.9,2.64),(13.9,2.54),(13.4,2.32),(13.0,2.20),(13.6,2.14),
    (13.5,2.24),(12.8,2.20),(14.3,2.15),(13.1,2.11),(14.7,2.06),(12.4,2.02),(13.8,1.98),(14.2,1.93),
    (12.9,1.89),(13.4,1.84),(14.6,1.80),(12.2,1.75),(13.7,1.71),(14.0,1.66),(12.7,1.62),(13.3,1.58),
    (14.8,1.53),(12.5,1.49),(13.9,1.44),(13.0,1.40),(14.4,1.35),(12.3,1.31),(13.6,1.27),(14.1,1.22),
    (12.8,1.18),(13.2,1.13),(14.7,1.09),(12.6,1.04),(13.8,1.00),(14.3,0.96),(12.2,0.91),(13.4,0.87),
    (14.5,0.82),(12.9,0.78),(13.7,0.73),(14.0,0.69),(12.4,0.65),(13.1,0.60),(14.8,0.56),(12.7,0.51),
    (13.9,0.47),(14.2,0.42),(12.3,0.38),(13.5,0.34),(14.6,0.29),(12.8,0.25),(13.3,0.20),(14.1,0.16),
    (12.5,0.11),(13.8,0.07),(14.4,0.03),(12.2,-0.02),(13.6,-0.06),(14.7,-0.11),(12.9,-0.15),(13.2,-0.20),
    (14.0,-0.24),(12.6,-0.29),(13.9,-0.33),(14.3,-0.37),(12.4,-0.42),(13.4,-0.46),(14.8,-0.51),(12.7,-0.55),
    (13.7,-0.60),(14.2,-0.64),(12.3,-0.68),(13.1,-0.73),(14.5,-0.77),(12.9,-0.82),(13.8,-0.86),(14.0,-0.91),
    (12.5,-0.95),(13.5,-1.00),(14.6,-1.04),(12.2,-1.08),(13.3,-1.13),(14.4,-1.17),(12.8,-1.22),(13.9,-1.26),
    (14.1,-1.31),(12.6,-1.35),(13.6,-1.39),(14.7,-1.44),(12.4,-1.48),(13.2,-1.53),(14.3,-1.57),(12.9,-1.62),
    (13.7,-1.66),(14.0,-1.71),(12.3,-1.75),(13.4,-1.79),(14.8,-1.84),(12.7,-1.88),(13.8,-1.93),(14.2,-1.97),
    (12.5,-2.02),(13.5,-2.06),(14.5,-2.10),(12.9,-2.15),(13.1,-2.19),(14.0,-2.24),(12.8,-2.28),(13.9,-2.33),
    (14.3,-2.37),(13.3,-2.42),(13.6,-2.46),(12.9,-2.51),(14.1,-2.55),(13.4,-2.60),
    (13.9,-2.90),(11.8,-3.40),(12.1,-3.53),(13.9,-3.37),(13.9,-3.43),(13.9,-3.93),(13.9,-4.16),(10.0,-2.94),
    (17.6,-2.49),(15.0,-2.81),(13.5,-2.72),
    (16.1,1.96),(10.8,1.60),(16.3,1.40),(11.0,1.10),(16.6,0.80),(10.7,0.50),(16.2,0.20),(11.3,-0.10),
    (16.8,-0.40),(10.9,-0.70),(16.4,-1.00),(11.5,-1.30),(16.0,-1.60),(10.8,-1.90),(16.7,-2.10),(11.2,-2.30),
    (17.0,0.50),(17.2,-0.80),(10.4,0.10),
]
oth_day14_more = [
    (14.0,2.22),(12.6,2.17),(13.3,2.13),(14.5,2.08),(12.9,2.04),(13.7,1.99),(12.3,1.95),(14.4,1.90),
    (13.1,1.86),(13.9,1.81),(12.6,1.77),(14.7,1.73),(13.4,1.68),(12.8,1.64),(14.1,1.59),(13.6,1.55),
    (12.4,1.50),(14.5,1.46),(13.0,1.42),(13.8,1.37),(12.7,1.33),(14.2,1.28),(13.3,1.24),(14.8,1.20),
    (12.5,1.15),(13.9,1.11),(13.1,1.06),(14.4,1.02),(12.8,0.97),(13.6,0.93),(12.3,0.89),(14.6,0.84),
    (13.2,0.80),(13.9,0.75),(12.6,0.71),(14.3,0.67),(13.5,0.62),(12.9,0.58),(14.0,0.53),(12.4,0.49),
    (13.7,0.45),(14.7,0.40),(13.0,0.36),(12.7,0.31),(14.2,0.27),(13.4,0.22),(12.5,0.18),(14.5,0.14),
    (13.1,0.09),(13.9,0.05),(12.8,0.00),(14.1,-0.04),(13.3,-0.08),(12.4,-0.13),(14.6,-0.17),(13.7,-0.22),
    (12.9,-0.26),(14.2,-0.31),(13.5,-0.35),(12.6,-0.39),(14.7,-0.44),(13.2,-0.48),(13.9,-0.53),(12.3,-0.57),
    (14.4,-0.62),(13.6,-0.66),(12.8,-0.70),(14.1,-0.75),(13.0,-0.79),(13.8,-0.84),(12.5,-0.88),(14.6,-0.93),
    (13.4,-0.97),(12.9,-1.02),(14.3,-1.06),(13.7,-1.11),(12.4,-1.15),(14.0,-1.19),(13.1,-1.24),(14.8,-1.28),
    (12.7,-1.33),(13.5,-1.37),(14.2,-1.42),(12.6,-1.46),(13.9,-1.50),(13.3,-1.55),(14.5,-1.59),(12.8,-1.64),
    (14.0,-1.68),(13.2,-1.73),(12.5,-1.77),(14.4,-1.82),(13.6,-1.86),(13.0,-1.91),(14.1,-1.95),(12.7,-2.00),
    (13.8,-2.04),(14.6,-2.08),(13.3,-2.13),(12.6,-2.17),(14.2,-2.22),(13.5,-2.26),(13.0,-2.31),(14.0,-2.35),
    (13.7,-2.40),(13.2,-2.44),(14.3,-2.48),(13.6,-2.53),(13.1,-2.57),
]
oth_mid = [
    (20.8,1.98),(23.0,1.57),(18.8,1.21),(21.2,1.25),(20.6,0.85),(21.0,0.65),(21.3,0.55),(19.9,-0.91),
    (21.0,-1.40),(23.0,-2.14),(21.9,-3.10),(18.5,-1.20),(18.7,-1.10),(19.0,-0.42),(22.5,0.20),(19.5,0.10),
    (24.0,0.40),(23.5,-0.30),(22.0,-0.70),(24.5,-1.00),(20.0,0.30),
    (15.4,1.20),(15.6,-0.50),(15.3,0.30),(16.9,1.10),(17.5,0.00),(18.2,0.80),(18.8,-0.60),(19.4,1.60),
    (19.9,-1.60),(20.5,-0.20),(21.5,1.00),(21.8,-0.90),(22.3,0.60),(22.8,-1.30),(23.4,0.90),(23.9,-0.60),
    (24.3,1.30),(24.1,0.00),(17.8,-1.90),(20.8,-2.20),(22.6,1.80),(18.5,1.80),(16.8,-1.40),(24.6,-1.60),
]
oth_day28 = [
    (27.6,6.06),(27.6,5.55),(25.7,4.64),(27.7,4.65),(29.3,4.62),(27.7,4.28),(27.7,4.05),(27.9,3.54),
    (26.5,2.97),(27.7,2.99),(29.5,2.94),(27.5,2.88),(28.8,2.82),(29.4,2.30),(29.4,2.10),(25.7,2.04),
    (27.6,2.71),(26.3,2.67),(28.8,2.62),(27.1,2.58),(29.3,2.53),(25.8,2.49),(28.2,2.45),(26.7,2.40),
    (27.9,2.36),(29.0,2.31),(26.0,2.27),(27.4,2.22),(28.6,2.18),(25.6,2.13),(28.0,2.09),(26.9,2.04),
    (29.4,2.00),(27.2,1.96),(26.4,1.91),(28.5,1.87),(27.7,1.82),(25.9,1.78),(29.1,1.73),(26.6,1.69),
    (28.3,1.65),(27.0,1.60),(25.7,1.56),(28.9,1.51),(27.5,1.47),(26.2,1.42),(28.1,1.38),(29.5,1.34),
    (26.8,1.29),(27.8,1.25),(25.8,1.20),(28.7,1.16),(27.3,1.11),(26.5,1.07),(29.2,1.02),(28.0,0.98),
    (26.1,0.94),(27.6,0.89),(28.4,0.85),(25.6,0.80),(27.0,0.76),(29.0,0.71),(26.7,0.67),(28.2,0.63),
    (27.4,0.58),(25.9,0.54),(28.8,0.49),(26.3,0.45),(27.9,0.40),(29.3,0.36),(27.1,0.32),(26.0,0.27),
    (28.5,0.23),(27.7,0.18),(25.7,0.14),(28.1,0.09),(26.9,0.05),(29.4,0.00),(27.3,-0.04),(26.4,-0.08),
    (28.6,-0.13),(27.8,-0.17),(25.8,-0.22),(29.1,-0.26),(26.6,-0.31),(28.3,-0.35),(27.0,-0.39),(25.6,-0.44),
    (28.9,-0.48),(27.5,-0.53),(26.2,-0.57),(28.0,-0.62),(29.5,-0.66),(26.8,-0.71),(27.6,-0.75),(25.9,-0.79),
    (28.7,-0.84),(27.2,-0.88),(26.5,-0.93),(29.2,-0.97),(27.9,-1.02),(26.1,-1.06),(27.4,-1.11),(28.4,-1.15),
    (25.7,-1.19),(27.1,-1.24),(28.8,-1.28),(26.7,-1.33),(28.2,-1.37),(27.5,-1.42),(26.0,-1.46),(28.6,-1.51),
    (26.4,-1.55),(27.8,-1.59),(29.0,-1.64),(27.3,-1.68),(26.9,-1.73),(28.1,-1.77),(27.6,-1.82),(26.6,-1.86),
    (28.3,-1.90),(27.7,-1.94),
    (27.0,-2.05),(28.4,-2.15),(27.5,-2.30),(28.0,-2.45),(27.2,-2.60),(28.3,-2.75),(27.6,-2.90),(28.0,-3.07),
    (25.7,-3.40),(27.9,-3.37),(28.1,-3.55),(29.0,-3.50),(25.2,-3.60),(32.1,-2.60),(34.6,-2.48),(34.6,-2.53),
    (35.3,-3.13),(37.5,-3.15),
    (24.8,1.60),(30.5,1.70),(25.0,0.90),(30.8,1.00),(24.7,0.20),(31.0,0.30),(25.1,-0.50),(30.6,-0.40),
    (24.9,-1.20),(31.2,-1.10),(25.3,-1.80),(30.4,-1.70),(32.0,0.60),(31.8,-0.60),(26.0,2.40),(30.0,2.50),
]
oth_day28_more = [
    (28.2,2.69),(26.7,2.64),(27.4,2.60),(29.1,2.55),(26.1,2.51),(27.8,2.47),(28.6,2.42),(25.7,2.38),
    (27.2,2.33),(28.9,2.29),(26.5,2.24),(27.9,2.20),(29.4,2.15),(26.2,2.11),(27.5,2.07),(28.4,2.02),
    (25.8,1.98),(27.0,1.93),(28.8,1.89),(26.8,1.84),(27.6,1.80),(29.2,1.76),(26.0,1.71),(28.1,1.67),
    (27.3,1.62),(28.7,1.58),(26.4,1.53),(25.6,1.49),(27.9,1.45),(29.3,1.40),(26.9,1.36),(28.3,1.31),
    (27.1,1.27),(25.9,1.22),(28.6,1.18),(27.7,1.14),(26.3,1.09),(29.0,1.05),(27.4,1.00),(28.2,0.96),
    (26.6,0.91),(25.8,0.87),(28.9,0.82),(27.2,0.78),(29.5,0.74),(26.0,0.69),(27.8,0.65),(28.4,0.60),
    (26.8,0.56),(27.0,0.51),(29.1,0.47),(25.7,0.43),(28.0,0.38),(26.5,0.34),(27.6,0.29),(28.8,0.25),
    (26.2,0.20),(27.3,0.16),(29.3,0.11),(25.9,0.07),(28.3,0.02),(26.7,-0.02),(27.9,-0.06),(28.7,-0.11),
    (26.0,-0.15),(27.5,-0.20),(29.0,-0.24),(26.4,-0.28),(28.1,-0.33),(27.2,-0.37),(25.8,-0.42),(28.5,-0.46),
    (26.9,-0.51),(27.7,-0.55),(29.4,-0.60),(26.1,-0.64),(28.2,-0.68),(27.4,-0.73),(25.6,-0.77),(28.9,-0.82),
    (26.6,-0.86),(27.9,-0.91),(28.4,-0.95),(26.3,-1.00),(27.1,-1.04),(29.1,-1.09),(25.9,-1.13),(28.0,-1.17),
    (27.6,-1.22),(26.8,-1.26),(28.6,-1.31),(27.3,-1.35),(26.2,-1.40),(28.2,-1.44),(27.0,-1.49),(28.8,-1.53),
    (26.5,-1.57),(27.7,-1.62),(28.4,-1.66),(26.9,-1.71),(27.5,-1.75),(28.0,-1.80),(27.2,-1.84),(27.9,-1.88),
    (27.4,-1.92),
]
oth_late = [
    (34.8,1.88),(34.8,1.58),(35.3,1.50),(36.1,1.45),(41.4,1.66),(41.6,1.60),(41.8,1.52),(42.0,1.33),
    (41.5,0.82),(41.5,0.55),(45.5,1.05),(46.5,0.95),(48.9,1.56),(49.5,0.70),(51.5,0.74),(48.5,0.55),
    (49.2,0.55),(34.6,-0.87),(35.8,-0.90),(35.8,-1.04),(34.6,-1.04),(38.8,-1.07),(39.1,-1.44),(43.0,-1.84),
    (41.8,-2.26),(43.0,-2.85),(43.6,-1.34),(44.8,-0.71),(41.5,-0.55),(42.0,-0.77),(42.0,-1.00),(42.0,-1.15),
    (46.9,-1.73),(49.9,-1.93),(49.9,-2.35),(48.9,-1.05),(48.9,-1.22),(50.1,-0.93),(33.5,0.80),(36.0,0.60),
    (38.0,0.30),(40.0,0.50),(43.5,0.20),(45.0,-0.20),(47.0,0.30),(50.5,0.10),(52.0,0.40),(33.0,-0.30),
    (37.0,-0.50),(39.5,-0.20),(44.0,0.70),(46.0,-0.50),(38.5,1.00),(32.5,1.20),(36.8,-1.50),(40.5,0.10),
    (47.5,-0.90),(51.0,-0.40),(53.5,0.05),
    (29.8,0.80),(30.3,-0.90),(31.5,1.40),(32.3,-0.20),(33.0,0.40),(33.5,-1.20),(34.2,1.00),(35.0,-0.30),
    (36.5,1.10),(37.2,0.10),(38.0,-0.80),(39.5,1.20),(40.2,-0.50),(43.0,0.50),(44.5,-1.00),(45.8,0.20),
    (47.8,1.10),(50.8,-0.40),(52.5,-0.20),(30.9,2.00),(32.8,1.80),(34.0,-1.70),(36.0,-1.00),
]
oth_day56 = [
    (55.6,5.02),(55.6,1.63),(56.2,1.45),(55.5,1.35),(56.6,1.30),(55.1,1.20),(56.0,1.10),(56.8,1.05),
    (55.4,0.95),(56.2,0.85),(55.7,0.75),(56.5,0.62),(55.3,0.50),(56.0,0.40),(56.7,0.30),(55.5,0.20),
    (56.3,0.10),(55.8,0.00),(56.6,-0.10),(55.2,-0.20),(56.1,-0.35),(55.6,-0.50),(56.4,-0.65),(55.3,-0.80),
    (56.0,-0.95),(55.8,-1.10),(56.5,-1.25),(55.9,-1.40),(55.4,-1.40),(55.9,-1.87),(55.9,-2.20),(55.9,-3.72),
    (58.6,1.65),(59.6,1.89),(59.4,1.40),(59.2,1.15),(59.3,0.97),(59.3,0.76),(59.6,0.35),(58.0,0.40),
    (58.0,0.22),(58.8,-0.40),(58.8,-0.65),(59.0,-0.90),(59.4,-0.12),(52.9,-1.80),(53.5,-0.90),(54.5,-0.90),
    (60.0,0.50),(58.5,0.05),(54.0,0.60),(60.2,-0.30),
    (56.9,0.60),(55.0,0.30),(57.3,-0.60),(55.6,1.50),(56.8,-1.60),(57.8,0.90),(54.8,-0.50),(56.4,1.60),
]

# loess smooth of CWRES vs time, per panel
mel_smooth_t = [-0.3, 3, 7, 11, 15, 20, 25, 30, 35, 40, 45, 50, 55, 60.2]
mel_smooth_r = [-0.20, -0.10, -0.04, 0.00, 0.02, 0.04, 0.07, 0.11, 0.16, 0.21, 0.27, 0.33, 0.40, 0.47]
io_smooth_t = [0.0, 4, 8, 12, 16, 20, 25, 30, 40, 50, 60.2]
io_smooth_r = [0.19, 0.16, 0.12, 0.09, 0.07, 0.05, 0.04, 0.04, 0.03, 0.03, 0.02]
oth_smooth_t = [-0.3, 5, 10, 15, 20, 25, 30, 35, 40, 45, 50, 55, 60.2]
oth_smooth_r = [-0.06, -0.04, -0.02, 0.01, 0.04, 0.08, 0.11, 0.13, 0.13, 0.13, 0.12, 0.12, 0.12]

x_ticks = [0, 10, 20, 30, 40, 50, 60]
y_ticks = [-4, -2, 0, 2, 4, 6]
y_tick_labels = ["-4", "-2", "0", "2", "4", "6"]

panel_points = [
    mel_day0 + mel_day0_more + mel_early + mel_day7 + mel_day14 + mel_day14_more + mel_day21
    + mel_day28 + mel_day28_more + mel_late + mel_day56,
    io_day0 + io_day0_more + io_early + io_day14 + io_day14_more + io_mid + io_day28 + io_day28_more
    + io_late,
    oth_day0 + oth_day0_more + oth_early + oth_day7 + oth_day14 + oth_day14_more + oth_mid + oth_day28
    + oth_day28_more + oth_late + oth_day56,
]
panel_smooth = [
    (mel_smooth_t, mel_smooth_r),
    (io_smooth_t, io_smooth_r),
    (oth_smooth_t, oth_smooth_r),
]

# ---------------------------------------------------------------------------
W, H = 1131, 788
FONT = "Liberation Sans, Arial, sans-serif"
BLUE = "#2297E6"
RED = "#DF536B"
STRIP = "#FFE5CC"

# panel geometry in pixels
PX_LEFT = [108, 447, 786]
PX_WIDTH = 339
PY_TOP, PY_BOTTOM, STRIP_TOP = 87, 686, 52

XR = [-4.4, 63.85]
YR = [-5.11, 6.82]

def fx(px):
    return px / W

def fy(py):
    return 1 - py / H

y_dom = [fy(PY_BOTTOM), fy(PY_TOP)]

fig = go.Figure()

for i, (pts, (st, sr)) in enumerate(zip(panel_points, panel_smooth)):
    ax = "" if i == 0 else str(i + 1)
    fig.add_trace(go.Scatter(
        x=[p[0] for p in pts], y=[p[1] for p in pts],
        mode="markers", xaxis="x" + ax, yaxis="y" + ax,
        marker=dict(symbol="circle-open", size=10.5, color=BLUE, line=dict(width=1.5, color=BLUE)),
        showlegend=False, hoverinfo="skip",
    ))
    fig.add_trace(go.Scatter(
        x=st, y=sr, mode="lines", xaxis="x" + ax, yaxis="y" + ax,
        line=dict(color=RED, width=3, shape="spline"),
        showlegend=False, hoverinfo="skip",
    ))
    # empty trace to register the top tick axis of this panel
    fig.add_trace(go.Scatter(
        x=[None], y=[None], xaxis="x" + str(i + 4), yaxis="y" + ax,
        mode="markers", showlegend=False, hoverinfo="skip",
    ))

common_x = dict(range=XR, tickvals=x_ticks, ticks="outside", ticklen=13, tickwidth=1.2,
                tickcolor="black", showgrid=False, zeroline=False, showline=True, linecolor="black",
                linewidth=1.2, mirror=True, tickfont=dict(family=FONT, size=20, color="black"),
                ticklabelstandoff=6, automargin=False)
common_y = dict(range=YR, domain=y_dom, tickvals=y_ticks, ticktext=y_tick_labels, showgrid=False,
                zeroline=True, zerolinecolor="black", zerolinewidth=1.2, showline=True,
                linecolor="black", linewidth=1.2, mirror=True, tickcolor="black", tickwidth=1.2,
                tickfont=dict(family=FONT, size=20, color="black"), automargin=False)

layout = dict(
    width=W, height=H, margin=dict(l=0, r=0, t=0, b=0, autoexpand=False),
    paper_bgcolor="white", plot_bgcolor="white",
    font=dict(family=FONT, color="black"),
)

for i in range(3):
    ax = "" if i == 0 else str(i + 1)
    dom = [fx(PX_LEFT[i]), fx(PX_LEFT[i] + PX_WIDTH)]
    layout["xaxis" + ax] = dict(common_x, domain=dom, anchor="y" + ax,
                                showticklabels=(i != 1))
    ydict = dict(common_y, anchor="x" + ax)
    if i == 0:
        ydict.update(ticks="outside", ticklen=13, showticklabels=True, ticklabelstandoff=5)
    elif i == 1:
        ydict.update(ticks="", showticklabels=False)
    else:
        ydict.update(side="right", ticks="outside", ticklen=13, showticklabels=False)
    layout["yaxis" + ax] = ydict
    # top tick axis above the strip
    layout["xaxis" + str(i + 4)] = dict(
        overlaying="x" + ax, anchor="free", position=fy(STRIP_TOP), side="top",
        range=XR, tickvals=x_ticks, ticks="outside", ticklen=13, tickwidth=1.2, tickcolor="black",
        showline=False, showgrid=False, zeroline=False, showticklabels=(i == 1),
        tickfont=dict(family=FONT, size=20, color="black"), ticklabelstandoff=6, automargin=False,
    )

shapes = []
annotations = []
for i, name in enumerate(PANELS):
    x0, x1 = fx(PX_LEFT[i]), fx(PX_LEFT[i] + PX_WIDTH)
    shapes.append(dict(type="rect", xref="paper", yref="paper", x0=x0, x1=x1,
                       y0=fy(PY_TOP), y1=fy(STRIP_TOP), fillcolor=STRIP,
                       line=dict(color="black", width=1.2), layer="above"))
    annotations.append(dict(text=name, xref="paper", yref="paper", x=(x0 + x1) / 2,
                            y=(fy(PY_TOP) + fy(STRIP_TOP)) / 2, showarrow=False,
                            xanchor="center", yanchor="middle",
                            font=dict(family=FONT, size=28, color="black")))

annotations.append(dict(text="Actual Time after Previous Dose [Day]", xref="paper", yref="paper",
                        x=fx(617), y=fy(770), showarrow=False, xanchor="center", yanchor="middle",
                        font=dict(family=FONT, size=29, color="black")))
annotations.append(dict(text="Conditional weighted residuals", xref="paper", yref="paper",
                        x=fx(29), y=fy(372), showarrow=False, xanchor="center", yanchor="middle",
                        textangle=-90, font=dict(family=FONT, size=30, color="black")))

layout["shapes"] = shapes
layout["annotations"] = annotations
fig.update_layout(**layout)

fig.write_html("out.html")
